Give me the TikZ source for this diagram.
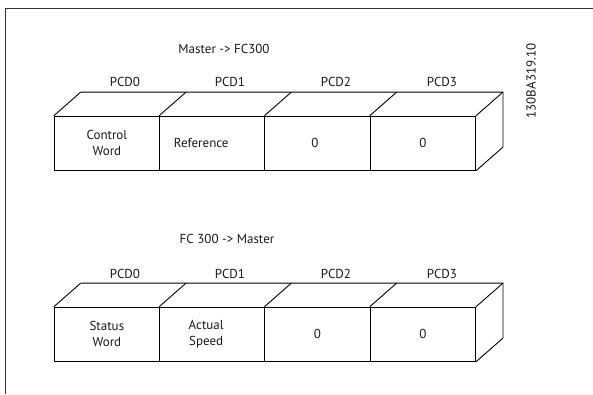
\documentclass[tikz,border=0pt]{standalone}
\usepackage{fontspec}
\setmainfont{PT Sans}
\usetikzlibrary{calc}
\begin{document}
\begin{tikzpicture}[x=1pt,y=-1pt,
  every node/.style={text=black!90},
  cell/.style={draw, line width=1pt, minimum width=105.3pt, minimum height=54pt, inner sep=0pt, align=center, font=\fontsize{13}{16}\selectfont},
  lbl/.style={font=\fontsize{13}{15}\selectfont, inner sep=0pt},
  edge3d/.style={line width=0.9pt},
  frame/.style={line width=1pt, black!80}]
\useasboundingbox (0,0) rectangle (593,394);
\draw[frame] (5,394) -- (5,8) -- (593,8);
% top row
\node[lbl] (t1) at (224,49) {Master -> FC300};
\node[cell] (a0) at (106.9,143.3) {Control\\Word};
\node[cell] (a1) at (212.2,143.3) {\hspace*{-22pt}Reference};
\node[cell] (a2) at (317.5,143.3) {\hspace*{-5pt}0};
\node[cell] (a3) at (422.8,143.3) {0};
\node[lbl] (p0) at (125,82) {PCD0};
\node[lbl] (p1) at (230,82) {PCD1};
\node[lbl] (p2) at (336,82) {PCD2};
\node[lbl] (p3) at (442,82) {PCD3};
\foreach \n in {a0,a1,a2,a3}{\draw[edge3d] (\n.north west) -- ++(27,-23.7);}
\draw[edge3d] ($(a0.north west)+(27,-23.7)$) -- ($(a3.north east)+(27,-23.7)$) -- ($(a3.south east)+(27,-23.7)$) -- (a3.south east);
\draw[edge3d] (a3.north east) -- ++(27,-23.7);
\node[lbl, rotate=90] (code) at (531,81) {130BA319.10};
% bottom row
\node[lbl] (t2) at (227,239) {FC 300 -> Master};
\node[cell] (b0) at (106.9,334.3) {Status\\Word};
\node[cell] (b1) at (212.2,334.3) {\hspace*{-12pt}Actual\\\hspace*{-12pt}Speed};
\node[cell] (b2) at (317.5,334.3) {0};
\node[cell] (b3) at (422.8,334.3) {0};
\node[lbl] (q0) at (125,274) {PCD0};
\node[lbl] (q1) at (230,274) {PCD1};
\node[lbl] (q2) at (336,274) {PCD2};
\node[lbl] (q3) at (442,274) {PCD3};
\foreach \n in {b0,b1,b2,b3}{\draw[edge3d] (\n.north west) -- ++(27,-23.7);}
\draw[edge3d] ($(b0.north west)+(27,-23.7)$) -- ($(b3.north east)+(27,-23.7)$) -- ($(b3.south east)+(27,-23.7)$) -- (b3.south east);
\draw[edge3d] (b3.north east) -- ++(27,-23.7);
\end{tikzpicture}
\end{document}
